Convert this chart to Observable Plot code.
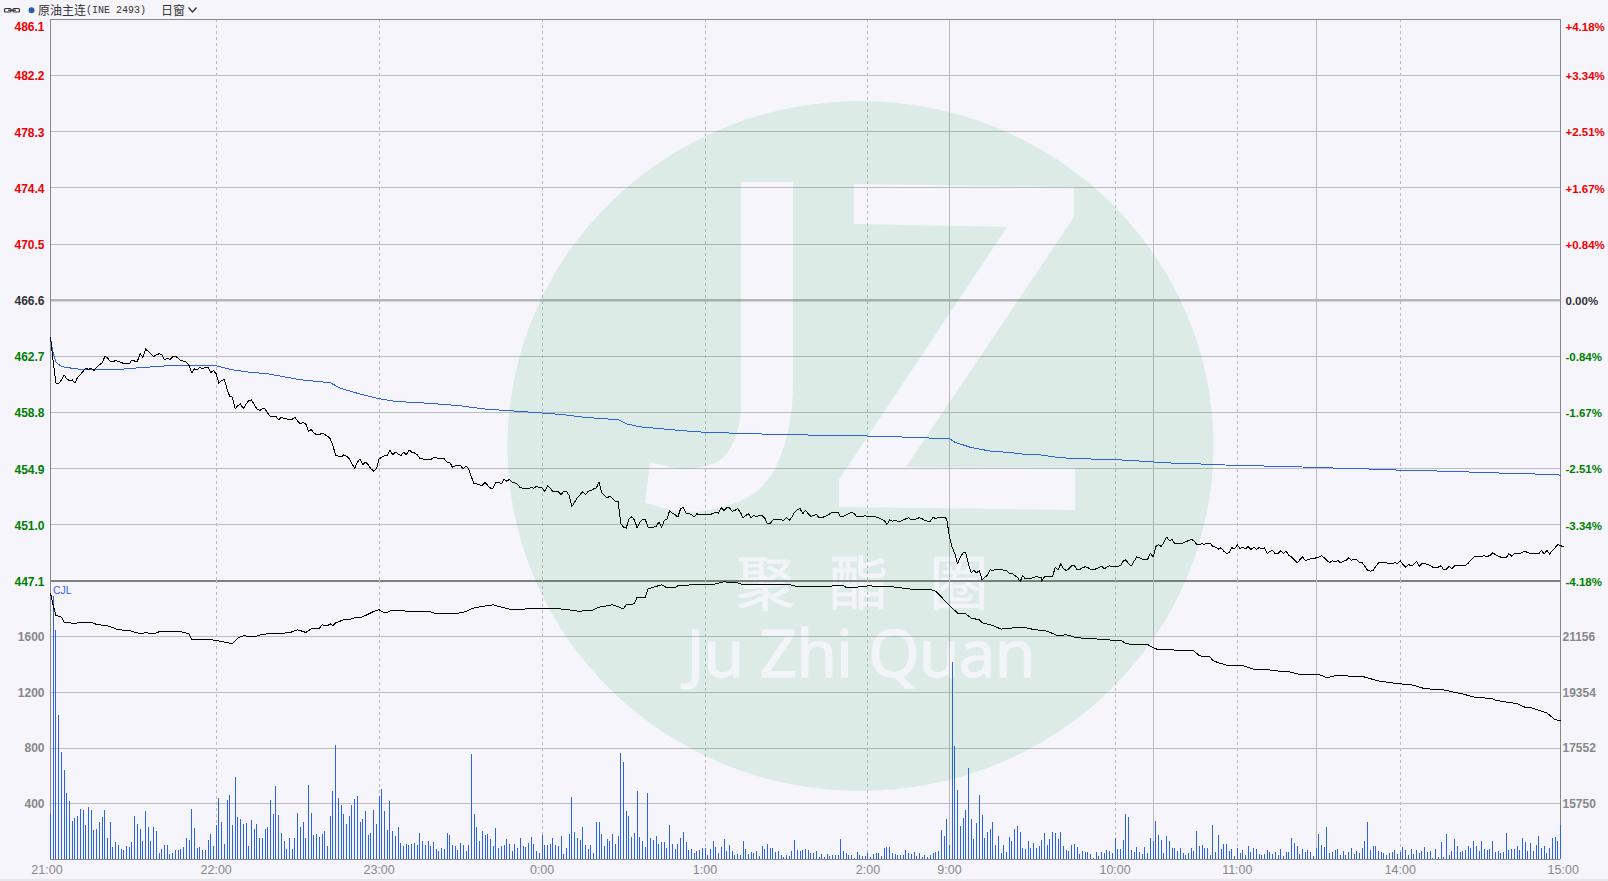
<!DOCTYPE html>
<html>
<head>
<meta charset="utf-8">
<title>原油主连</title>
<script src="https://cdn.jsdelivr.net/npm/d3@7"></script>
<script src="https://cdn.jsdelivr.net/npm/@observablehq/plot@0.6"></script>
<style>
html,body{margin:0;padding:0;background:#f5f5fb;overflow:hidden;width:1608px;height:881px}
#wrap{position:relative;width:1608px;height:881px;overflow:hidden}
#top,#bot,#wm,#hdr{position:absolute;left:0}
#top{top:0}#bot{top:580px}
#wm{top:0;pointer-events:none}
#hdr{top:0;width:1608px;height:19px;font:12px "Noto Sans CJK SC",sans-serif;color:#333}
#hdr span{position:absolute;top:2px;line-height:16px;white-space:nowrap}
#strip{position:absolute;left:0;top:879px;width:1608px;height:2px;background:#e6e6ec}
</style>
</head>
<body>
<div id="wrap">
<div id="top"></div>
<div id="bot"></div>
<svg id="wm" width="1608" height="881">
  <defs>
    <mask id="holes" maskUnits="userSpaceOnUse" x="0" y="0" width="1608" height="881">
      <rect width="1608" height="881" fill="#fff"/>
      <path fill="#000" d="M741 182H793V386C793 410 789 435 780 458C771 480 757 495 738 502C716 511 692 514 670 510L645 503L650 462L674 468C690 470 706 467 717 462C730 455 741 432 741 404Z"/>
      <path fill="#000" d="M853.5 184L1074 187V217L906 467L1075 468V510L839 507V479.5L1007 227L853.5 224Z"/>
      <g fill="#1c1c1c" stroke="#1c1c1c" stroke-width="0.9" font-family="Noto Sans CJK SC" font-size="59" text-anchor="middle">
        <text x="765" y="605">聚</text><text x="859" y="605">酯</text><text x="959" y="605">圈</text>
      </g>
      <text fill="#1c1c1c" stroke="#1c1c1c" stroke-width="1.4" x="860.5" y="677" text-anchor="middle" font-family="Noto Sans" font-size="66" letter-spacing="-1">Ju Zhi Quan</text>
    </mask>
  </defs>
  <ellipse cx="860.5" cy="446" rx="353" ry="345" fill="rgb(0,150,40)" fill-opacity="0.1" mask="url(#holes)"/>
</svg>
<div id="hdr">
  <svg width="24" height="19" style="position:absolute;left:0;top:0"><g fill="none" stroke="#333" stroke-width="1.2"><rect x="4.5" y="8.5" width="6.5" height="3.5" rx="1"/><rect x="13" y="8.5" width="6.5" height="3.5" rx="1"/><path d="M8 10.2H16"/></g></svg>
  <svg width="40" height="19" style="position:absolute;left:24px;top:0"><circle cx="7.5" cy="10.3" r="3" fill="#2a5ca8"/></svg>
  <span style="left:38px">原油主连</span>
  <span style="left:86px;font:10px 'Liberation Mono',monospace;line-height:18px">(INE 2493)</span>
  <span style="left:161px">日窗</span>
  <svg width="12" height="19" style="position:absolute;left:187px;top:0"><path d="M1.5 7.5L5.5 12L9.5 7.5" fill="none" stroke="#333" stroke-width="1.3"/></svg>
</div>
<div id="strip"></div>
</div>
<script>
const minutes = 556;
const priceTicks = [486.1,482.2,478.3,474.4,470.5,466.6,462.7,458.8,454.9,451.0,447.1];
const priceLabels = ["486.1","482.2","478.3","474.4","470.5","466.6","462.7","458.8","454.9","451.0","447.1"];
const pctLabels = ["+4.18%","+3.34%","+2.51%","+1.67%","+0.84%","0.00%","-0.84%","-1.67%","-2.51%","-3.34%","-4.18%"];
const priceColors = ["#f00000","#f00000","#f00000","#f00000","#f00000","#333333","#008000","#008000","#008000","#008000","#008000"];
const volTicks = [1600,1200,800,400];
const oiTicks = [21156,19354,17552,15750];
const dashedMinutes = [61,121,181,241,301,392,437,497];
const solidMinutes = [331,406,466];
const timeLabels = ["21:00","22:00","23:00","0:00","1:00","2:00","9:00","10:00","11:00","14:00","15:00"];
const timeLabelMinutes = [-1.3,61,121,181,241,301,331,392,437,497,557];

const priceA = [463.99,462.30,460.84,460.79,461.07,461.42,461.14,461.02,461.07,460.86,461.25,461.42,461.67,461.88,461.79,461.88,461.72,461.95,462.13,462.23,462.69,462.60,462.34,462.34,462.41,462.34,462.30,462.18,462.18,462.18,462.46,462.37,462.37,462.88,462.64,463.22,463.04,462.88,462.69,462.81,462.88,462.81,462.46,462.57,462.48,462.69,462.69,462.60,462.41,462.37,462.30,462.07,461.56,461.83,461.76,461.95,461.83,461.93,461.95,461.56,461.72,461.49,460.84,461.02,461.09,460.44,459.91,459.87,459.06,459.29,459.40,459.06,459.40,459.63,459.68,459.36,459.06,458.94,459.06,459.06,458.75,458.52,458.52,458.52,458.29,458.48,458.36,458.36,458.29,458.34,458.48,458.20,458.01,458.13,458.01,457.50,457.62,457.39,457.25,457.25,457.39,457.27,457.16,456.97,456.51,455.81,455.77,455.70,455.86,455.77,455.58,455.24,454.93,455.35,455.58,455.17,455.35,455.17,454.89,454.73,454.89,455.58,455.70,455.81,455.81,456.21,455.86,456.05,455.93,455.81,456.05,455.86,456.21,456.05,456.00,455.88,455.63,455.58,455.51,455.51,455.54,455.65,455.65,455.61,455.61,455.58,455.35,455.35,455.00,455.10,455.10,455.10,454.89,455.07,454.89,454.31,453.85,453.85,453.78,453.73,453.96,453.73,453.55,453.55,453.96,453.96,453.85,454.15,454.03,454.17,453.94,453.92,453.80,453.57,453.55,453.50,453.55,453.57,453.55,453.69,453.57];
const priceB = [453.57,453.32,453.71,453.55,453.32,453.32,453.30,453.09,453.34,453.32,453.04,452.28,452.58,452.88,453.09,453.32,453.09,453.34,453.39,453.50,453.57,453.97,453.23,453.04,452.88,453.00,452.81,452.65,452.65,451.07,450.84,450.77,451.42,451.56,451.35,450.80,451.19,451.35,451.38,450.84,450.82,450.84,450.87,451.19,450.84,451.30,451.42,452.00,451.81,451.70,451.54,452.12,452.21,451.81,451.77,451.72,451.54,451.77,451.70,451.70,451.70,451.70,451.72,451.81,451.88,451.81,452.19,452.00,452.19,452.19,451.93,452.00,452.12,451.88,451.49,451.65,451.77,451.49,451.65,451.58,451.65,451.65,451.47,451.07,451.07,451.35,451.40,451.35,451.35,451.30,451.54,451.30,451.54,451.88,452.07,452.12,451.77,452.00,451.77,451.58,451.65,451.72,451.49,451.49,451.58,451.65,451.77,451.88,451.88,451.88,451.54,451.58,451.70,451.77,451.88,451.77,451.54,451.58,451.58,451.65,451.54,451.61,451.61,451.54,451.49,451.38,451.30,451.03,451.35,451.26,451.30,451.24,451.26,451.35,451.42,451.49,451.35,451.35,451.45,451.49,451.42,451.30,451.26,451.26,451.54,451.42,451.54,451.54,451.54,451.42,450.15,449.45,448.99,448.30,448.76,449.06,449.06,448.30,447.67,447.83,447.67,447.83,447.19,447.37,447.49,447.88,447.83,447.93,447.90,447.88,447.86,447.83,447.65,447.65,447.49,447.37,447.07,447.46,447.25,447.25,447.25,447.37,447.39,447.37,447.32];
const priceC = [447.07,447.39,447.41,447.41,447.44,448.06,447.88,448.29,447.95,447.83,447.95,448.16,448.16,447.90,447.90,448.02,448.09,448.02,447.92,447.88,447.95,448.02,448.13,447.95,448.06,448.16,448.09,448.09,448.09,448.18,448.48,448.57,448.29,448.16,448.48,448.78,448.71,448.62,448.57,448.62,449.03,448.76,449.50,449.61,449.50,449.80,450.15,449.91,449.96,449.68,449.73,449.68,449.73,449.82,449.91,449.98,449.91,449.64,449.64,449.68,449.66,449.71,449.73,449.50,449.45,449.31,449.41,449.17,449.03,449.06,449.41,449.34,449.61,449.34,449.45,449.34,449.50,449.27,449.45,449.31,449.41,449.34,449.41,448.99,449.15,449.22,448.99,448.99,449.22,449.03,449.17,448.87,448.76,448.57,448.36,448.57,448.78,448.53,448.57,448.64,448.64,448.71,448.76,448.87,448.71,448.53,448.36,448.53,448.41,448.53,448.36,448.48,448.53,448.71,448.55,448.57,448.57,448.36,448.36,448.11,447.83,447.79,447.83,448.11,448.36,448.36,448.36,448.36,448.29,448.29,448.36,448.34,448.50,448.25,448.06,448.25,448.16,448.25,448.48,448.11,448.34,448.32,448.25,448.18,448.06,448.06,448.06,448.16,447.88,447.92,448.11,447.95,448.16,448.16,448.16,448.16,448.16,448.34,448.53,448.76,448.83,448.80,448.83,448.85,448.80,448.87,449.06,448.94,448.83,448.76,448.71,448.71,448.99,448.83,448.99,448.99,448.99,449.10,449.17,449.06,449.03,449.03,448.99,448.99,449.22,448.99,449.22,448.97,449.22,449.41,449.64,449.57,449.47];
const priceStarts = [0,181,365];

const avgMinute = [0,1,2,4,6,12,26,34,43,61,67,72,80,92,103,107,113,121,127,139,151,159,180,188,196,209,212,217,228,238,248,259,271,285,305,321,331,333,339,347,352,359,364,372,380,393,404,410,422,430,444,459,470,484,493,509,521,530,542,554,556];
const avgPrice = [463.94,462.90,462.30,462.00,461.93,461.77,461.81,461.93,462.05,462.05,461.77,461.63,461.49,461.08,460.87,460.47,460.14,459.76,459.57,459.45,459.27,459.06,458.78,458.67,458.48,458.30,458.02,457.81,457.62,457.46,457.39,457.32,457.28,457.21,457.16,457.05,456.98,456.74,456.37,456.09,456.05,455.89,455.87,455.66,455.59,455.52,455.40,455.31,455.24,455.17,455.10,455.03,454.96,454.89,454.82,454.75,454.68,454.62,454.55,454.50,454.45];

const volA = [323,1886,1642,1032,765,638,471,416,272,292,308,358,351,244,373,351,208,215,265,301,351,151,265,86,122,100,72,65,93,86,122,308,251,215,129,344,229,129,229,201,43,72,100,100,36,43,65,65,72,86,151,136,358,222,79,86,65,65,136,179,93,244,437,265,108,423,459,244,588,301,287,251,258,93,280,215,251,151,151,215,229,423,323,523,315,186,129,72,151,72,151,330,229,265,151,531,330,172,179,158,179,201,93,308,488,817,437,387,323,251,308,387,430,452,265,287,344,172,186,351,251,452,502,344,208,416,201,165,229,115,93,108,100,108,115,100,186,129,100,129,93,122,72,57,79,72,186,172,100,93,65,115,100,57,100,753,323,229,129,201,172,179,143,93,222,79];
const volB = [93,100,143,108,57,108,79,151,93,86,115,158,108,57,43,172,100,100,108,151,100,93,165,36,79,179,445,194,151,136,229,100,72,100,43,265,265,179,93,143,129,179,108,165,760,695,344,308,158,186,488,158,129,86,473,151,136,165,108,122,122,79,244,108,72,108,151,194,122,65,72,43,57,65,79,79,29,72,129,86,43,86,143,57,100,57,29,36,29,129,72,36,50,43,57,22,93,72,108,79,79,50,57,29,14,29,22,57,136,65,57,65,72,65,43,43,57,14,36,14,36,22,29,29,29,143,57,43,29,29,7,50,29,22,22,43,14,36,43,43,22,79,86,86,43,36,29,29,29,65,43,36,50,22,43,14,29,14,29,43,50,57,208,165,287,100,1412,810,495,237,294,351,652,287,143,258,459,315,151,194,215,265,100,165];
const volC = [41,100,48,158,129,215,237,194,79,72,129,79,115,79,93,136,186,100,143,194,186,143,194,93,65,57,100,108,86,36,57,50,50,36,7,50,22,50,43,65,57,43,151,72,72,136,323,301,65,50,86,50,36,86,43,151,129,272,172,136,43,165,129,79,79,57,79,43,29,43,79,57,201,93,100,79,79,29,244,50,172,72,108,108,57,72,22,79,43,65,29,93,50,79,72,36,29,36,65,50,36,50,29,72,22,50,50,151,115,93,36,72,50,65,50,22,79,179];
const volD = [100,86,229,43,50,65,72,29,57,29,50,79,36,57,43,79,129,265,65,93,93,57,50,43,29,43,50,65,36,50,86,65,29,72,36,65,43,57,86,50,57,7,72,14,122,14,179,29,57,143,93,50,57,65,93,79,129,93,57,129,72,65,72,129,50,57,43,50,186,65,72,72,93,65,151,122,57,115,57,100,165,79,93,43,79,151,158,129,244];
const volStarts = [0,166,350,468];

const oiMinute = [0,1,2,4,5,8,13,15,17,21,25,29,33,35,38,40,44,48,51,52,55,57,61,64,67,69,71,75,77,80,83,88,91,94,96,99,100,102,103,104,105,108,110,112,114,116,119,121,122,124,125,129,132,140,142,148,152,156,159,163,166,170,174,181,189,194,199,202,207,211,212,215,216,219,220,222,225,227,230,231,236,241,244,248,253,255,272,275,292,293,296,301,310,318,324,326,329,331,334,337,339,342,343,347,350,355,359,362,367,371,374,378,386,392,394,396,401,404,406,408,412,416,421,423,427,428,430,433,439,443,448,453,456,460,467,470,473,483,489,496,501,506,513,520,524,531,532,540,543,545,551,554,556];
const oiValue = [22567,22168,21845,21791,21630,21597,21608,21618,21554,21511,21382,21360,21253,21285,21253,21317,21317,21317,21253,21059,21059,21080,21037,20983,20929,21113,21188,21156,21210,21253,21263,21285,21382,21296,21414,21425,21543,21511,21576,21511,21608,21705,21716,21770,21770,21845,21974,22028,21963,21931,21996,22017,21963,21963,21899,21899,21942,22093,22136,22190,22114,22028,22050,22082,22050,21985,21996,22114,22190,22060,22190,22222,22437,22427,22696,22760,22836,22739,22739,22803,22836,22857,22846,22933,22900,22836,22846,22782,22803,22750,22750,22803,22771,22685,22685,22631,22351,22168,21920,21899,21759,21705,21608,21522,21403,21446,21446,21392,21338,21187,21220,21123,21080,21037,21048,20929,20897,20907,20800,20735,20746,20703,20703,20541,20498,20390,20315,20240,20218,20110,20089,20035,20024,19938,19939,19831,19896,19874,19724,19638,19605,19476,19433,19304,19207,19153,19099,18991,18873,18862,18690,18474,18442];

const priceSegs = [priceA,priceB,priceC];
const priceRows = priceSegs.flatMap((s,k)=>s.map((p,j)=>({i:priceStarts[k]+j,p})));
const avgRows = avgMinute.map((i,k)=>({i,p:avgPrice[k]}));
const volSegs = [volA,volB,volC,volD];
const volRows = volSegs.flatMap((s,k)=>s.map((v,j)=>({i:volStarts[k]+j,v})));
const toVol = d3.scaleLinear().domain(oiTicks).range(volTicks);
const oiRows = oiMinute.map((i,k)=>({i,v:toVol(oiValue[k])}));
const axisRows = priceTicks.map((v,k)=>({v,label:priceLabels[k],pct:pctLabels[k],color:priceColors[k]}));
const volAxisRows = volTicks.map((v,k)=>({v,label:String(v),oi:String(oiTicks[k])}));
const timeRows = timeLabels.map((t,k)=>({t,i:timeLabelMinutes[k]}));

const GRID="#bcbcc0", SPINE="#888888", DASH="#bbbbbf", BLUE="#2b62e6";
const F="Liberation Sans";
const crisp={shapeRendering:"crispEdges"};
const baseOpts={width:1608,marginLeft:50,marginRight:48,style:{background:"transparent",overflow:"visible"},
  x:{domain:[0,minutes],axis:null},color:{type:"identity"}};

const verticals=()=>[
  Plot.ruleX(dashedMinutes,{stroke:DASH,strokeDasharray:"3,3",...crisp}),
  Plot.ruleX(solidMinutes,{stroke:DASH,...crisp}),
];
const spines=()=>[Plot.ruleX([0,minutes],{stroke:SPINE,...crisp})];
const leftLab={frameAnchor:"left",textAnchor:"end",dx:-6,fontFamily:F,fontWeight:"bold",fontSize:12};
const rightLab={frameAnchor:"right",textAnchor:"start",dx:5,fontFamily:F,fontWeight:"bold",fontSize:11.5};

const gridTop=axisRows.filter(d=>d.label!=="486.1"&&d.label!=="466.6"&&d.label!=="447.1");
const topPlot=Plot.plot({...baseOpts,height:581,marginTop:19,marginBottom:0.5,
  y:{domain:[447.1,486.1],axis:null},
  marks:[
    ...verticals(),
    Plot.ruleY(gridTop,{y:"v",stroke:GRID,...crisp}),
    Plot.ruleY([466.6],{stroke:"#b6b6b6",strokeWidth:2.5}),
    Plot.ruleY([447.1],{stroke:"#808080",strokeWidth:2}),
    Plot.ruleY([486.1],{stroke:SPINE,...crisp}),
    ...spines(),
    Plot.line(avgRows,{x:"i",y:"p",stroke:BLUE,strokeWidth:1,...crisp}),
    Plot.line(priceRows,{x:"i",y:"p",stroke:"#000",strokeWidth:1,...crisp}),
    Plot.text(axisRows.slice(1),{y:"v",text:"label",fill:"color",...leftLab,dy:1}),
    Plot.text(axisRows.slice(1),{y:"v",text:"pct",fill:"color",...rightLab,dy:1}),
    Plot.text(axisRows.slice(0,1),{y:"v",text:"label",fill:"color",...leftLab,dy:8}),
    Plot.text(axisRows.slice(0,1),{y:"v",text:"pct",fill:"color",...rightLab,dy:8}),
  ]});
document.getElementById("top").appendChild(topPlot);

const botPlot=Plot.plot({...baseOpts,height:301,marginTop:0,marginBottom:22,
  y:{domain:[0,2004],axis:null},
  marks:[
    ...verticals(),
    Plot.ruleY(volTicks,{stroke:GRID,...crisp}),
    ...spines(),
    Plot.ruleY([0],{stroke:SPINE,...crisp}),
    Plot.ruleX(volRows,{x:"i",y1:0,y2:"v",stroke:BLUE,strokeWidth:1,...crisp}),
    Plot.line(oiRows,{x:"i",y:"v",stroke:"#000",strokeWidth:1,...crisp}),
    Plot.text(volAxisRows,{y:"v",text:"label",fill:"#888888",...leftLab,dy:0.5}),
    Plot.text(volAxisRows,{y:"v",text:"oi",fill:"#888888",...rightLab,fontSize:12,dx:2,dy:0.5}),
    Plot.text(["CJL"],{frameAnchor:"top-left",textAnchor:"start",lineAnchor:"middle",dx:2.5,dy:10,fill:"#3a5ff0",fontFamily:F,fontSize:10.5}),
    Plot.text(timeRows,{x:"i",text:"t",frameAnchor:"bottom",lineAnchor:"middle",dy:10,fill:"#888888",fontFamily:F,fontSize:12.5}),
  ]});
document.getElementById("bot").appendChild(botPlot);
</script>
</body>
</html>
